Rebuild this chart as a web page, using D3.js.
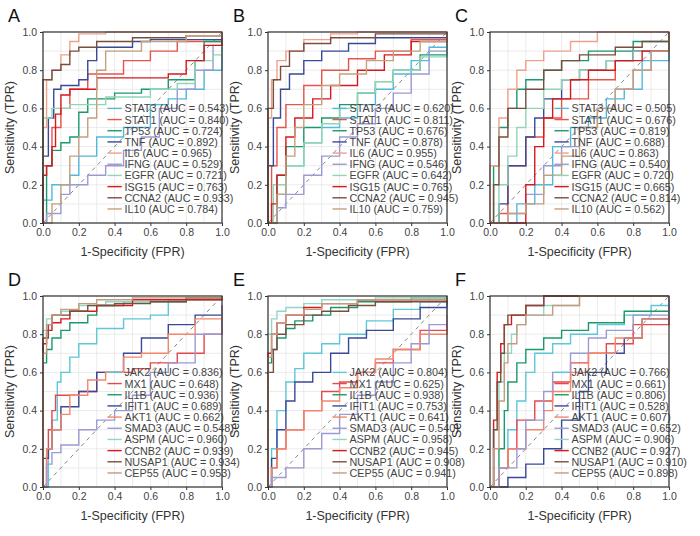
<!DOCTYPE html>
<html><head><meta charset="utf-8">
<script src="https://cdn.jsdelivr.net/npm/d3@7"></script>
<style>body{margin:0;background:#fff}text{font-family:Arial,"Liberation Sans",sans-serif}</style>
</head><body><div id="chart"></div>
<script>
// panel labels and gene names
var panelLetters = ["A", "B", "C", "D", "E", "F"];
var genesTop = ["STAT3", "STAT1", "TP53", "TNF", "IL6", "IFNG", "EGFR", "ISG15", "CCNA2", "IL10"];
var genesBottom = ["JAK2", "MX1", "IL1B", "IFIT1", "AKT1", "SMAD3", "ASPM", "CCNB2", "NUSAP1", "CEP55"];
var colorsTop = ["#52b8dc", "#e8534a", "#1a9a6c", "#3a4996", "#f2a08a", "#9c9ad2", "#8fd5b6", "#d7191c", "#7a4e3e", "#c4a07e"];
var colorsBottom = ["#5cc8d8", "#e5484d", "#1a9a6c", "#3a4996", "#f4866a", "#9c9ad2", "#8ed8c8", "#d7191c", "#7a4e3e", "#c79a80"];
var ticks = [0, 0.2, 0.4, 0.6, 0.8, 1.0];

var aucA = [0.543, 0.840, 0.724, 0.892, 0.965, 0.529, 0.721, 0.763, 0.933, 0.784];
var aucB = [0.620, 0.811, 0.676, 0.878, 0.955, 0.546, 0.642, 0.765, 0.945, 0.759];
var aucC = [0.505, 0.676, 0.819, 0.688, 0.863, 0.540, 0.720, 0.665, 0.814, 0.562];
var aucD = [0.836, 0.648, 0.936, 0.689, 0.662, 0.548, 0.960, 0.939, 0.934, 0.953];
var aucE = [0.804, 0.625, 0.938, 0.753, 0.641, 0.540, 0.958, 0.945, 0.908, 0.941];
var aucF = [0.766, 0.661, 0.806, 0.528, 0.607, 0.652, 0.906, 0.927, 0.910, 0.898];

// ROC vertices, "fpr,tpr" pairs
var rocA = [
  "0,0 0,0.12 0.05,0.12 0.05,0.2 0.15,0.25 0.2,0.35 0.3,0.45 0.45,0.5 0.6,0.62 0.7,0.65 0.8,0.7 0.9,0.8 1,0.92",
  "0,0 0,0.3 0.05,0.5 0.1,0.6 0.15,0.7 0.25,0.78 0.45,0.85 0.6,0.9 0.75,0.95 1,1",
  "0,0 0.02,0.3 0.05,0.38 0.1,0.42 0.15,0.45 0.2,0.58 0.25,0.65 0.4,0.68 0.55,0.7 0.7,0.75 0.85,0.85 0.9,0.95 1,1",
  "0,0 0,0.35 0.03,0.55 0.06,0.7 0.1,0.72 0.2,0.75 0.25,0.85 0.3,0.92 0.5,0.95 0.6,0.96 1,1",
  "0,0 0,0.5 0.02,0.75 0.05,0.8 0.1,0.88 0.15,0.95 0.2,0.99 0.35,1 1,1",
  "0,0 0.02,0.05 0.1,0.15 0.15,0.2 0.25,0.25 0.35,0.3 0.45,0.38 0.55,0.45 0.65,0.6 0.75,0.7 0.85,0.8 0.95,0.93 1,1",
  "0,0 0,0.55 0.05,0.6 0.15,0.62 0.25,0.62 0.35,0.66 0.5,0.66 0.6,0.7 0.75,0.73 0.85,0.85 0.95,0.88 1,1",
  "0,0 0,0.25 0.02,0.3 0.05,0.4 0.07,0.57 0.1,0.67 0.15,0.7 0.3,0.76 0.5,0.76 0.7,0.78 0.8,0.85 0.9,0.93 1,0.97",
  "0,0 0,0.75 0.05,0.8 0.1,0.83 0.15,0.9 0.2,0.92 0.3,0.95 0.5,0.97 0.8,0.98 1,1",
  "0,0 0.05,0.1 0.1,0.2 0.15,0.35 0.2,0.45 0.25,0.55 0.3,0.8 0.35,0.9 0.55,0.95 0.8,0.98 1,1"
];
var rocB = [
  "0,0 0.05,0.15 0.1,0.3 0.2,0.42 0.3,0.5 0.4,0.55 0.5,0.62 0.6,0.7 0.7,0.78 0.8,0.85 0.9,0.92 1,1",
  "0,0 0.02,0.3 0.05,0.5 0.1,0.62 0.2,0.72 0.3,0.8 0.45,0.86 0.6,0.9 0.8,0.96 1,1",
  "0,0 0.05,0.25 0.1,0.4 0.2,0.5 0.3,0.55 0.4,0.62 0.5,0.68 0.6,0.74 0.7,0.8 0.85,0.88 1,1",
  "0,0 0,0.3 0.03,0.55 0.07,0.7 0.12,0.78 0.2,0.85 0.3,0.9 0.45,0.94 0.6,0.97 1,1",
  "0,0 0,0.55 0.02,0.75 0.05,0.85 0.1,0.9 0.2,0.96 0.35,0.99 0.5,1 1,1",
  "0,0 0.05,0.08 0.1,0.15 0.2,0.25 0.3,0.35 0.4,0.45 0.5,0.52 0.6,0.6 0.7,0.68 0.8,0.78 0.9,0.9 1,1",
  "0,0 0.03,0.2 0.1,0.3 0.2,0.42 0.3,0.52 0.4,0.6 0.5,0.68 0.6,0.74 0.7,0.8 0.85,0.87 1,1",
  "0,0 0.02,0.1 0.05,0.25 0.1,0.45 0.15,0.55 0.25,0.65 0.35,0.72 0.5,0.8 0.65,0.88 0.8,0.95 1,1",
  "0,0 0,0.6 0.03,0.75 0.07,0.82 0.12,0.9 0.2,0.94 0.35,0.97 0.6,0.99 1,1",
  "0,0 0.05,0.15 0.1,0.35 0.15,0.5 0.2,0.62 0.3,0.72 0.4,0.78 0.55,0.85 0.7,0.9 0.85,0.95 1,1"
];
var rocC = [
  "0,0 0.1,0 0.15,0.1 0.25,0.2 0.35,0.4 0.45,0.5 0.55,0.55 0.65,0.65 0.75,0.7 0.85,0.85 1,1",
  "0,0 0.05,0.05 0.1,0.3 0.2,0.45 0.3,0.55 0.4,0.65 0.55,0.75 0.7,0.85 0.8,0.9 1,1",
  "0,0 0.02,0.3 0.05,0.5 0.1,0.6 0.15,0.7 0.2,0.75 0.3,0.8 0.4,0.85 0.55,0.9 0.8,0.95 1,1",
  "0,0 0.05,0.1 0.1,0.3 0.2,0.45 0.25,0.55 0.3,0.65 0.4,0.75 0.5,0.8 0.65,0.85 0.8,0.9 1,1",
  "0,0 0,0.3 0.05,0.55 0.1,0.7 0.15,0.8 0.2,0.85 0.3,0.9 0.45,0.95 0.6,1 1,1",
  "0,0 0.1,0.05 0.2,0.15 0.3,0.3 0.4,0.4 0.5,0.5 0.6,0.6 0.7,0.7 0.8,0.8 0.9,0.9 1,1",
  "0,0 0.05,0.2 0.1,0.35 0.15,0.5 0.2,0.6 0.3,0.7 0.4,0.75 0.5,0.8 0.65,0.85 0.8,0.9 1,1",
  "0,0 0.15,0 0.2,0.2 0.25,0.4 0.3,0.55 0.35,0.65 0.45,0.75 0.55,0.8 0.7,0.85 0.85,0.9 1,1",
  "0,0 0.02,0.2 0.05,0.45 0.1,0.6 0.2,0.7 0.3,0.8 0.4,0.85 0.5,0.88 0.7,0.92 0.85,0.95 1,1",
  "0,0 0.1,0.05 0.2,0.1 0.3,0.25 0.4,0.35 0.5,0.5 0.6,0.6 0.7,0.7 0.8,0.8 0.9,0.9 1,1"
];
var rocD = [
  "0,0 0.03,0.2 0.05,0.35 0.08,0.55 0.1,0.6 0.15,0.68 0.2,0.75 0.3,0.83 0.45,0.88 0.6,0.9 0.7,0.98 1,1",
  "0,0 0.02,0.15 0.03,0.3 0.05,0.4 0.07,0.48 0.2,0.5 0.3,0.6 0.5,0.62 0.6,0.65 0.75,0.7 0.9,0.8 1,0.9",
  "0,0 0,0.65 0.02,0.72 0.05,0.78 0.1,0.82 0.15,0.86 0.25,0.9 0.3,0.95 0.45,0.97 0.8,0.99 1,1",
  "0,0 0,0.15 0.03,0.2 0.05,0.3 0.1,0.42 0.2,0.5 0.3,0.6 0.45,0.7 0.55,0.78 0.7,0.85 0.85,0.9 1,0.95",
  "0,0 0.02,0.2 0.05,0.3 0.1,0.38 0.15,0.48 0.25,0.56 0.35,0.6 0.45,0.68 0.55,0.7 0.7,0.8 0.85,0.88 1,0.95",
  "0,0 0.02,0.12 0.05,0.18 0.1,0.22 0.2,0.3 0.3,0.35 0.4,0.4 0.5,0.48 0.6,0.6 0.7,0.65 0.85,0.8 1,0.95",
  "0,0 0,0.82 0.02,0.88 0.05,0.9 0.1,0.92 0.2,0.95 0.35,0.97 0.6,0.98 1,1",
  "0,0 0,0.75 0.02,0.82 0.05,0.86 0.1,0.88 0.15,0.92 0.3,0.95 0.5,0.98 1,1",
  "0,0 0,0.78 0.03,0.85 0.05,0.9 0.15,0.92 0.25,0.95 0.4,0.96 0.6,0.97 0.8,0.99 1,1",
  "0,0 0,0.7 0.02,0.85 0.05,0.9 0.1,0.93 0.2,0.96 0.3,0.98 0.5,0.99 1,1"
];
var rocE = [
  "0,0 0.02,0.2 0.05,0.4 0.1,0.55 0.15,0.62 0.2,0.7 0.3,0.75 0.4,0.8 0.55,0.87 0.7,0.93 0.85,0.97 1,1",
  "0,0 0.02,0.1 0.05,0.2 0.1,0.3 0.2,0.4 0.3,0.5 0.4,0.55 0.5,0.6 0.6,0.65 0.7,0.72 0.85,0.82 1,0.9",
  "0,0 0,0.65 0.02,0.72 0.05,0.78 0.1,0.83 0.15,0.87 0.25,0.9 0.35,0.94 0.5,0.97 0.8,0.99 1,1",
  "0,0 0.02,0.15 0.05,0.3 0.1,0.45 0.15,0.55 0.25,0.6 0.35,0.7 0.45,0.78 0.55,0.82 0.7,0.88 0.85,0.94 1,1",
  "0,0 0.02,0.1 0.05,0.2 0.1,0.3 0.2,0.4 0.3,0.45 0.4,0.52 0.5,0.6 0.6,0.67 0.7,0.72 0.85,0.8 1,0.9",
  "0,0 0.02,0.05 0.1,0.1 0.2,0.2 0.3,0.28 0.4,0.38 0.5,0.48 0.6,0.55 0.7,0.65 0.8,0.75 0.9,0.85 1,0.95",
  "0,0 0,0.8 0.02,0.88 0.05,0.92 0.1,0.94 0.2,0.96 0.3,0.98 0.6,0.99 1,1",
  "0,0 0,0.7 0.02,0.8 0.05,0.86 0.1,0.9 0.2,0.94 0.3,0.96 0.5,0.98 1,1",
  "0,0 0,0.6 0.03,0.72 0.05,0.8 0.1,0.85 0.2,0.9 0.3,0.92 0.45,0.95 0.6,0.97 1,1",
  "0,0 0,0.68 0.02,0.8 0.05,0.86 0.1,0.9 0.2,0.93 0.3,0.96 0.5,0.98 1,1"
];
var rocF = [
  "0,0 0.05,0.1 0.1,0.3 0.15,0.45 0.2,0.6 0.25,0.7 0.35,0.75 0.45,0.8 0.6,0.85 0.75,0.9 0.9,0.95 1,1",
  "0,0 0.05,0.1 0.1,0.2 0.15,0.35 0.25,0.45 0.35,0.55 0.45,0.65 0.55,0.7 0.65,0.75 0.8,0.85 1,1",
  "0,0 0.05,0.2 0.08,0.4 0.1,0.55 0.15,0.65 0.2,0.72 0.3,0.78 0.4,0.82 0.55,0.86 0.75,0.92 1,1",
  "0,0 0.1,0.05 0.2,0.12 0.3,0.2 0.4,0.35 0.5,0.5 0.55,0.6 0.65,0.7 0.75,0.78 0.85,0.88 1,1",
  "0,0 0.05,0.1 0.1,0.2 0.2,0.3 0.3,0.4 0.35,0.5 0.45,0.6 0.55,0.7 0.7,0.78 0.85,0.88 1,1",
  "0,0 0.05,0.1 0.15,0.2 0.2,0.35 0.3,0.5 0.35,0.6 0.45,0.7 0.55,0.78 0.65,0.82 0.8,0.9 1,1",
  "0,0 0.02,0.3 0.05,0.55 0.08,0.7 0.12,0.8 0.15,0.85 0.2,0.9 0.3,0.95 0.5,1 1,1",
  "0,0 0.02,0.35 0.04,0.6 0.06,0.75 0.08,0.85 0.12,0.9 0.2,0.95 0.3,1 1,1",
  "0,0 0.02,0.3 0.04,0.55 0.06,0.7 0.08,0.85 0.1,0.9 0.2,0.95 0.3,1 1,1",
  "0,0 0.02,0.2 0.05,0.45 0.08,0.65 0.1,0.75 0.15,0.85 0.2,0.9 0.35,0.95 0.5,1 1,1"
];

var panels = [
  {roc: rocA, auc: aucA, genes: genesTop, colors: colorsTop},
  {roc: rocB, auc: aucB, genes: genesTop, colors: colorsTop},
  {roc: rocC, auc: aucC, genes: genesTop, colors: colorsTop},
  {roc: rocD, auc: aucD, genes: genesBottom, colors: colorsBottom},
  {roc: rocE, auc: aucE, genes: genesBottom, colors: colorsBottom},
  {roc: rocF, auc: aucF, genes: genesBottom, colors: colorsBottom}
];

var svg = d3.select("#chart").append("svg").attr("width", 700).attr("height", 536);
var lefts = [43, 268, 490], tops = [32, 296];
var w = 179, h = 191;

panels.forEach(function (p, i) {
  var ox = lefts[i % 3], oy = tops[Math.floor(i / 3)];
  var g = svg.append("g").attr("transform", `translate(${ox},${oy})`);
  var x = d3.scaleLinear().domain([0, 1]).range([0, w]);
  var y = d3.scaleLinear().domain([0, 1]).range([h, 0]);

  // grid
  var minor = d3.range(0, 1.01, 0.1);
  g.selectAll(".gx").data(minor).enter().append("line")
    .attr("x1", d => x(d)).attr("x2", d => x(d)).attr("y1", 0).attr("y2", h)
    .attr("stroke", "#e6e6e6").attr("stroke-width", 0.8);
  g.selectAll(".gy").data(minor).enter().append("line")
    .attr("y1", d => y(d)).attr("y2", d => y(d)).attr("x1", 0).attr("x2", w)
    .attr("stroke", "#e6e6e6").attr("stroke-width", 0.8);

  g.append("line").attr("x1", x(0)).attr("y1", y(0)).attr("x2", x(1)).attr("y2", y(1))
    .attr("stroke", "#888").attr("stroke-dasharray", "4,4").attr("stroke-width", 1);

  var line = d3.line().x(d => x(d[0])).y(d => y(d[1])).curve(d3.curveStepAfter);
  p.roc.forEach(function (s, k) {
    var pts = s.split(" ").map(q => q.split(",").map(Number));
    g.append("path").attr("d", line(pts)).attr("fill", "none")
      .attr("stroke", p.colors[k]).attr("stroke-width", 1.4);
  });

  // legend
  p.genes.forEach(function (name, k) {
    var ly = y(0.6 - k * 0.0585);
    g.append("line").attr("x1", x(0.36)).attr("x2", x(0.44)).attr("y1", ly).attr("y2", ly)
      .attr("stroke", p.colors[k]).attr("stroke-width", 1.4);
    g.append("text").attr("x", x(0.455)).attr("y", ly + 4).attr("font-size", 10.8)
      .attr("fill", "#444").text(`${name} (AUC = ${p.auc[k].toFixed(3)})`);
  });

  g.append("rect").attr("width", w).attr("height", h).attr("fill", "none")
    .attr("stroke", "#333").attr("stroke-width", 1.2);

  var xa = g.append("g").attr("transform", `translate(0,${h})`)
    .call(d3.axisBottom(x).tickValues(ticks).tickFormat(d3.format(".1f")).tickSize(3));
  var ya = g.append("g").call(d3.axisLeft(y).tickValues(ticks).tickFormat(d3.format(".1f")).tickSize(3));
  [xa, ya].forEach(a => {
    a.select(".domain").remove();
    a.selectAll("text").attr("font-size", 10.5).attr("fill", "#444");
    a.selectAll("line").attr("stroke", "#333");
  });

  g.append("text").attr("x", w / 2).attr("y", h + 33).attr("text-anchor", "middle")
    .attr("font-size", 12.5).attr("fill", "#333").text("1-Specificity (FPR)");
  g.append("text").attr("transform", "rotate(-90)").attr("x", -h / 2).attr("y", -29)
    .attr("text-anchor", "middle").attr("font-size", 12.5).attr("fill", "#333").text("Sensitivity (TPR)");
  g.append("text").attr("x", -35).attr("y", -10).attr("font-size", 18).attr("fill", "#111")
    .text(panelLetters[i]);
});
</script></body></html>
